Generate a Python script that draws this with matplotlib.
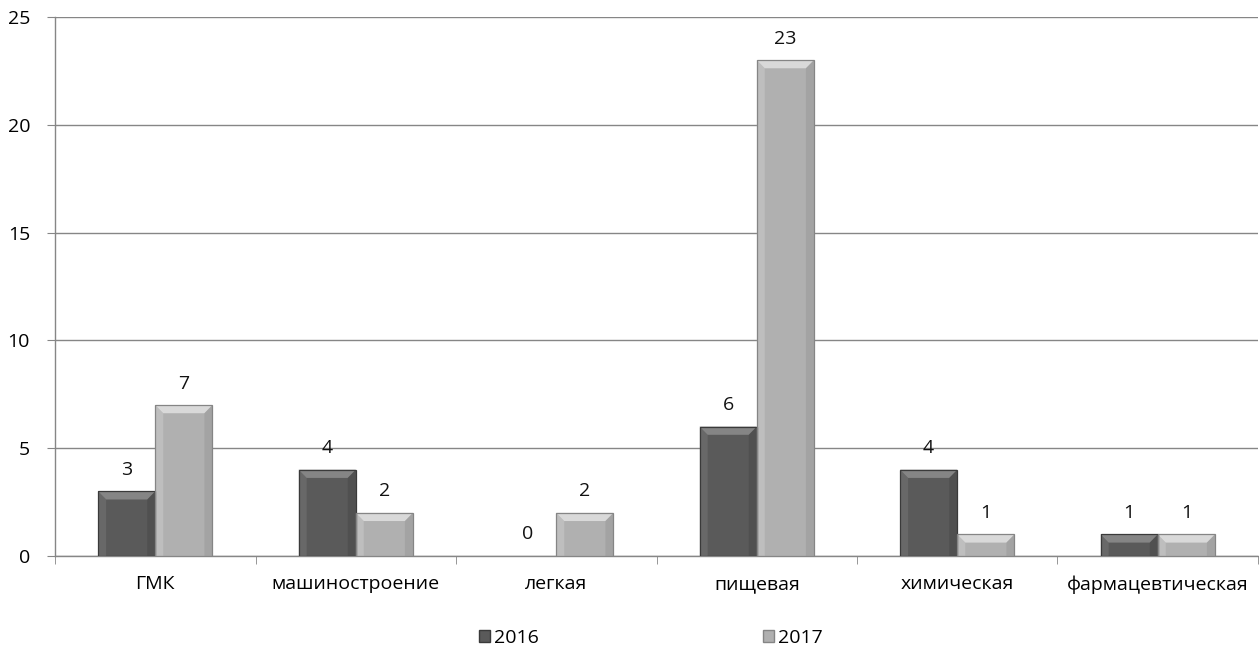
import numpy as np
import matplotlib
matplotlib.use('Agg')
import matplotlib.pyplot as plt
from matplotlib.patches import Rectangle, Polygon

# данные
categories = ['ГМК', 'машиностроение', 'легкая', 'пищевая', 'химическая', 'фармацевтическая']
values_2016 = [3, 4, 0, 6, 4, 1]
values_2017 = [7, 2, 2, 23, 1, 1]
series_names = ['2016', '2017']

plt.rcParams['font.family'] = ['Open Sans', 'DejaVu Sans']
fs = 14

fig = plt.figure(figsize=(12.59, 6.53), dpi=100)
ax = fig.add_axes([0.0437, 0.1486, 0.9555, 0.8254])

bar_w = 0.285
# основной, светлый, тёмный
colors = [('#5a5a5a', '#858585', '#3a3a3a'), ('#b0b0b0', '#d9d9d9', '#858585')]


def beveled_bar(ax, x0, h, w, base, light, dark):
    if h <= 0:
        return
    bx = w * 0.14
    by = min(0.38, h * 0.4)
    ax.add_patch(Rectangle((x0, 0), w, h, facecolor=base, edgecolor='none', zorder=3))
    # верхняя грань
    ax.add_patch(Polygon([(x0, h), (x0 + w, h), (x0 + w - bx, h - by), (x0 + bx, h - by)],
                         closed=True, facecolor=light, edgecolor='none', zorder=4))
    # левая грань
    ax.add_patch(Polygon([(x0, 0), (x0, h), (x0 + bx, h - by), (x0 + bx, 0)],
                         closed=True, facecolor=light, edgecolor='none', alpha=0.35, zorder=4))
    # правая грань
    ax.add_patch(Polygon([(x0 + w, 0), (x0 + w, h), (x0 + w - bx, h - by), (x0 + w - bx, 0)],
                         closed=True, facecolor=dark, edgecolor='none', alpha=0.3, zorder=4))
    ax.add_patch(Rectangle((x0, 0), w, h, facecolor='none', edgecolor=dark, lw=0.9, zorder=5))


x = np.arange(len(categories))
for i, vals in enumerate([values_2016, values_2017]):
    base, light, dark = colors[i]
    for xi, v in zip(x, vals):
        x0 = xi - bar_w + i * bar_w
        beveled_bar(ax, x0, v, bar_w, base, light, dark)
        ax.annotate(str(v), (x0 + bar_w / 2, v), xytext=(0, 9), textcoords='offset points',
                    ha='center', va='bottom', fontsize=fs, color='#111111')

ax.set_xlim(-0.5, len(categories) - 0.5)
ax.set_ylim(0, 25)
ax.set_yticks(range(0, 26, 5))
ax.set_xticks(x)
ax.set_xticklabels(categories)
ax.set_xticks(np.arange(-0.5, len(categories), 1), minor=True)
ax.tick_params(axis='x', which='major', length=0, pad=14, labelsize=fs)
ax.tick_params(axis='x', which='minor', length=6, color='#868686')
ax.tick_params(axis='y', length=6, color='#868686', labelsize=fs, pad=12)
ax.yaxis.grid(True, color='#868686', lw=1)
ax.set_axisbelow(True)
for s in ['top', 'right']:
    ax.spines[s].set_visible(False)
for s in ['left', 'bottom']:
    ax.spines[s].set_color('#868686')
    ax.spines[s].set_linewidth(1)

handles = [Rectangle((0, 0), 1, 1, facecolor=colors[0][0], edgecolor=colors[0][2]),
           Rectangle((0, 0), 1, 1, facecolor=colors[1][0], edgecolor=colors[1][2])]
fig.legend(handles, series_names, loc='center', bbox_to_anchor=(0.517, 0.023), ncol=2,
           frameon=False, fontsize=fs, handlelength=0.6, handleheight=0.6,
           handletextpad=0.2, columnspacing=11.5)

fig.savefig('out.png', dpi=100)
